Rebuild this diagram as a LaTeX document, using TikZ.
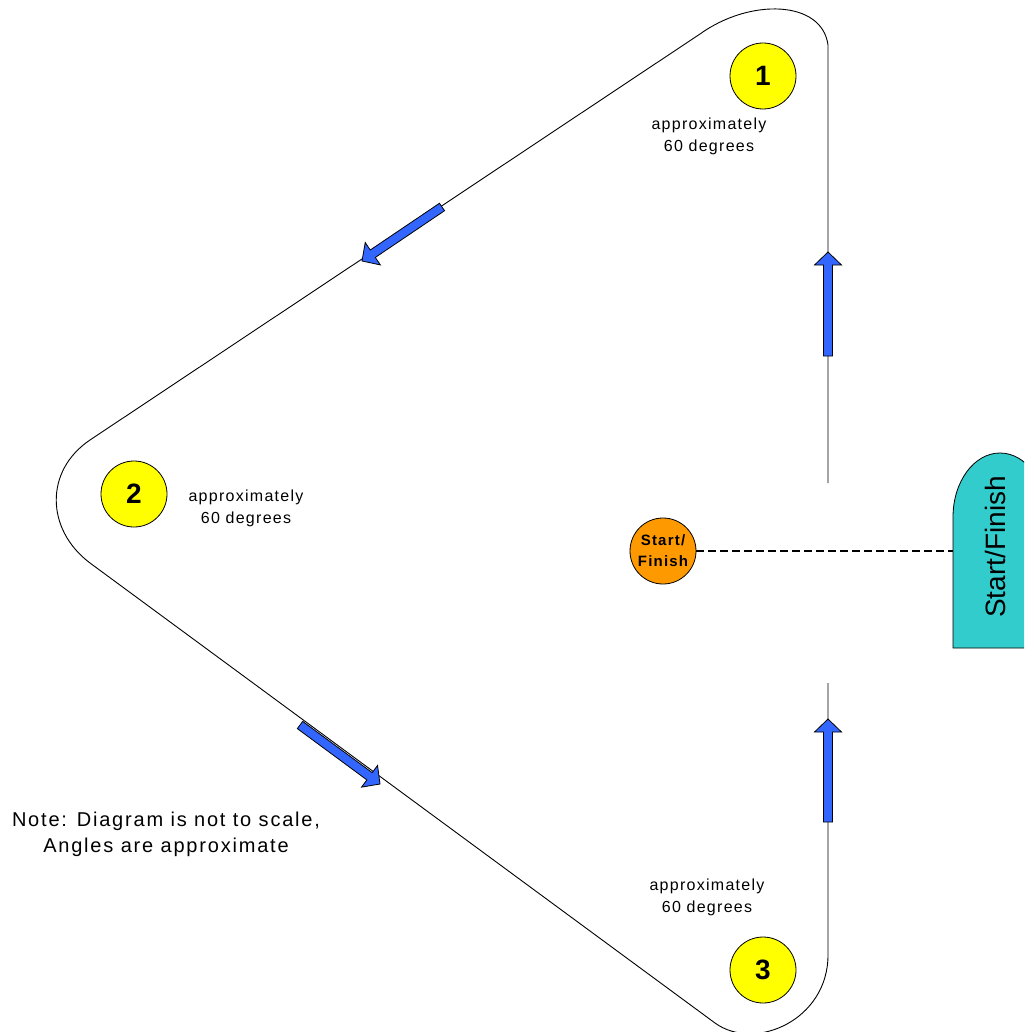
\documentclass[tikz,border=0pt]{standalone}
\usepackage{fontspec}
\setmainfont{Liberation Sans}
\newfontfamily\spfont[LetterSpace=8]{Liberation Sans}
\newfontfamily\notefont[LetterSpace=9]{Liberation Sans}
\usetikzlibrary{calc}
\definecolor{markyellow}{HTML}{FFFF00}
\definecolor{sforange}{HTML}{FF9900}
\definecolor{boatcyan}{HTML}{33CCCC}
\definecolor{arrowblue}{HTML}{3366FF}
\tikzset{
  track/.style={line width=0.9pt, line join=round},
  buoy/.style={circle, draw=black, line width=0.8pt, fill=markyellow, minimum size=66pt, inner sep=0pt, font=\fontsize{28}{30}\selectfont\bfseries},
  sfbuoy/.style={circle, draw=black, line width=0.8pt, fill=sforange, minimum size=66pt, inner sep=0pt, align=center, font=\spfont\fontsize{15}{21}\selectfont\bfseries},
  anglabel/.style={align=center, inner sep=0pt, font=\spfont\fontsize{16}{22}\selectfont},
  notelabel/.style={align=center, inner sep=0pt, font=\notefont\fontsize{20}{26}\selectfont},
  blockarrow/.style={fill=arrowblue, draw=black, line width=0.8pt, line join=miter},
  boatshape/.style={fill=boatcyan, draw=black, line width=0.8pt}
}
\newcommand\blkarrow[2]{%
  \coordinate (ah) at ($(#2)!13pt!(#1)$);
  \draw[blockarrow] ($(#1)!4.5pt!90:(#2)$) -- ($(ah)!4.5pt!90:(#2)$) -- ($(ah)!13.5pt!90:(#2)$) -- (#2) -- ($(ah)!13.5pt!-90:(#2)$) -- ($(ah)!4.5pt!-90:(#2)$) -- ($(#1)!4.5pt!-90:(#2)$) -- cycle;}
\begin{document}
\begin{tikzpicture}[x=1pt,y=-1pt]
\useasboundingbox (0,0) rectangle (1024,1032);
% course
\draw[track] (828,483) -- (828,45)
  .. controls (822,0) and (750,-2) .. (700,34)
  -- (90,440)
  .. controls (44,471) and (46,530) .. (90,563)
  -- (715,1023)
  .. controls (755,1052) and (828,1020) .. (828,955)
  -- (828,683);
% marks
\node[buoy] (m1) at (763,76) {1};
\node[buoy] (m2) at (134,494) {2};
\node[buoy] (m3) at (763,970) {3};
\node[sfbuoy] (sf) at (663,551) {Start/\\Finish};
% labels
\node[anglabel] (l1) at (709,136) {approximately\\60 degrees};
\node[anglabel] (l2) at (246,508) {approximately\\60 degrees};
\node[anglabel] (l3) at (707,897) {approximately\\60 degrees};
\node[notelabel] (note) at (166,834) {Note: Diagram is not to scale,\\Angles are approximate};
% committee boat
\begin{scope}
\clip (0,0) rectangle (1024,1032);
\draw[boatshape] (953,648) -- (953,517) .. controls (953,481.7) and (974,453) .. (1000,453)
  .. controls (1026,453) and (1047,481.7) .. (1047,517) -- (1047,648) -- cycle;
\end{scope}
\node[rotate=90, inner sep=0pt, font=\fontsize{28}{30}\selectfont] (boat) at (995,547) {Start/Finish};
\coordinate (boatedge) at (953,551);
\draw[line width=1.2pt, dash pattern=on 8pt off 4pt] (sf) -- (boatedge);
% direction arrows
\coordinate (a1t) at (828,356); \coordinate (a1p) at (828,252);
\coordinate (a2t) at (442,207); \coordinate (a2p) at (362,261);
\coordinate (a3t) at (300,725); \coordinate (a3p) at (380,784);
\coordinate (a4t) at (828,822); \coordinate (a4p) at (828,719);
\blkarrow{a1t}{a1p}
\blkarrow{a2t}{a2p}
\blkarrow{a3t}{a3p}
\blkarrow{a4t}{a4p}
\end{tikzpicture}
\end{document}
